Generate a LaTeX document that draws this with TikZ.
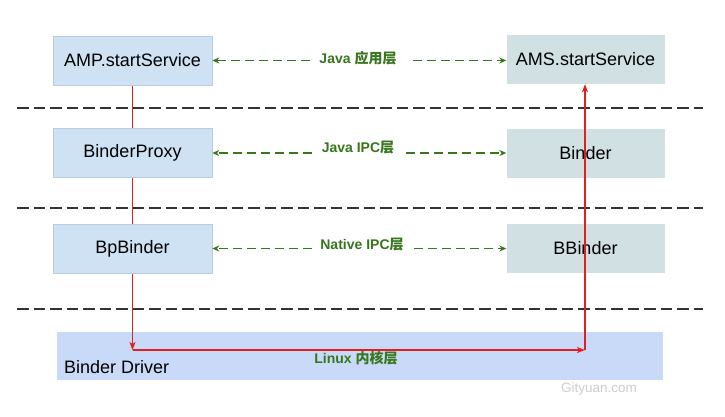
\documentclass[tikz,border=0pt]{standalone}
\usepackage{fontspec}
\setmainfont{Liberation Sans}
\newfontfamily\cjk{Noto Sans CJK SC}
\usetikzlibrary{arrows.meta}
\definecolor{leftfill}{HTML}{CFE2F3}
\definecolor{leftdraw}{HTML}{B7CCE2}
\definecolor{rightfill}{HTML}{D0E0E3}
\definecolor{drvfill}{HTML}{C9DAF8}
\definecolor{grn}{HTML}{38761D}
\definecolor{redl}{HTML}{E02020}
\definecolor{sep}{HTML}{333333}
\definecolor{wm}{HTML}{CDCDCD}
\begin{document}
\begin{tikzpicture}[x=1pt,y=-1pt,
  lbox/.style={draw=leftdraw,line width=0.6pt,fill=leftfill,minimum width=159pt,minimum height=49pt,inner sep=0pt,font=\fontsize{18}{21}\selectfont},
  rbox/.style={draw=none,fill=rightfill,minimum width=158pt,minimum height=49pt,inner sep=0pt,font=\fontsize{18}{21}\selectfont},
  layer/.style={font=\fontsize{14}{16}\selectfont\bfseries,text=grn,inner sep=0pt},
  garrow/.style={draw=grn,line width=1.3pt,dash pattern=on 9pt off 5pt,-{Stealth[length=7pt,width=6pt]}},
  rarrow/.style={draw=redl,line width=1.2pt,-{Stealth[length=8pt,width=6pt,inset=2pt]}},
  sepline/.style={draw=sep,line width=1.8pt,dash pattern=on 11.5pt off 5pt}]
\useasboundingbox (0,0) rectangle (725,416);
\fill[white] (0,0) rectangle (725,416);
% separators
\coordinate (s1a) at (17,108); \coordinate (s1b) at (703,108);
\coordinate (s2a) at (17,208); \coordinate (s2b) at (703,208);
\coordinate (s3a) at (17,309); \coordinate (s3b) at (703,309);
\draw[sepline] (s1a) -- (s1b);
\draw[sepline] (s2a) -- (s2b);
\draw[sepline] (s3a) -- (s3b);
% driver
\node[fill=drvfill,minimum width=606pt,minimum height=48pt,inner sep=0pt] (drv) at (360,356) {};
\node[anchor=west,font=\fontsize{18}{21}\selectfont,inner sep=0pt] (drvt) at (64,367) {Binder Driver};
% red path
\coordinate (c1) at (132.5,350);
\coordinate (c2) at (585,350);
\coordinate (amptop) at (132.5,85);
\draw[rarrow] (amptop) -- (c1);
\draw[rarrow] (c1) -- (c2);
% boxes
\node[lbox] (amp) at (132.5,60.5) {AMP.startService};
\node[rbox] (ams) at (585.5,59.5) {AMS.startService};
\node[lbox] (bpx) at (132.5,153) {BinderProxy};
\node[rbox] (bnd) at (585.5,153) {Binder};
\node[lbox] (bpb) at (132.5,248.5) {BpBinder};
\node[rbox] (bbd) at (585.5,248.5) {BBinder};
\draw[rarrow] (c2) -- (c2 |- ams.south);
% layer labels
\node[layer] (l1) at (358,58) {Java {\cjk\bfseries 应用层}};
\node[layer] (l2) at (358,148) {Java IPC{\cjk\bfseries 层}};
\node[layer] (l3) at (362,245) {Native IPC{\cjk\bfseries 层}};
\node[layer] (l4) at (356,358) {Linux {\cjk\bfseries 内核层}};
\draw[garrow] ([xshift=-9pt]l1.west |- amp.east) -- (amp.east);
\draw[garrow] ([xshift=16pt]l1.east |- amp.east) -- (ams.west |- amp.east);
\draw[garrow] ([xshift=-10pt]l2.west |- bpx.east) -- (bpx.east);
\draw[garrow] ([xshift=12pt]l2.east |- bpx.east) -- (bnd.west |- bpx.east);
\draw[garrow] ([xshift=-8pt]l3.west |- bpb.east) -- (bpb.east);
\draw[garrow] ([xshift=10pt]l3.east |- bpb.east) -- (bbd.west |- bpb.east);
% watermark
\node[text=wm,font=\fontsize{13.5}{15}\selectfont,inner sep=0pt] (wmk) at (599,389) {Gityuan.com};
\end{tikzpicture}
\end{document}
